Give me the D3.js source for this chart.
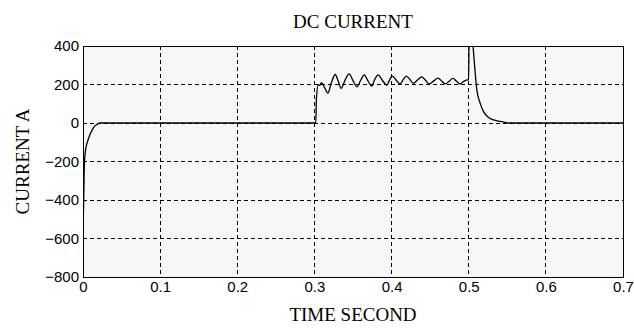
<!DOCTYPE html>
<html><head><meta charset="utf-8">
<script src="https://cdn.jsdelivr.net/npm/d3@7"></script>
<style>
body{margin:0;background:#fff;}
svg{display:block;}
.tick text{font-family:"Liberation Sans Narrow","Arial Narrow","Liberation Sans",Arial,sans-serif;font-size:15px;fill:#000;}
.lbl{font-family:"Liberation Serif","Times New Roman",serif;fill:#000;}
</style></head>
<body>
<svg id="c" width="634" height="331"></svg>
<script>
const title = "DC CURRENT";
const xLabel = "TIME SECOND";
const yLabel = "CURRENT A";
const xTicks = [0,0.1,0.2,0.3,0.4,0.5,0.6,0.7];
const yTicks = [400,200,0,-200,-400,-600,-800];
const time = [0,0.0005,0.001,0.0015,0.0021,0.003,0.0045,0.006,0.0074,0.009,0.0108,0.0135,0.0172,0.02,0.022,
 0.3018,0.3025,0.3048,0.307,0.309,0.313,0.3174,0.322,0.327,0.331,0.3346,0.34,0.345,0.35,0.355,0.36,0.3645,0.369,0.3744,
 0.378,0.3826,0.388,0.394,0.397,0.401,0.406,0.411,0.415,0.419,0.424,0.428,0.434,0.439,0.444,0.449,0.455,0.460,0.465,0.4695,
 0.475,0.4795,0.484,0.489,0.493,0.497,0.4998,0.5006,0.5045,0.506,0.5084,0.5106,0.5149,0.5192,0.5257,0.5322,0.5409,0.547,0.5512,0.7];
const current = [-540,-480,-380,-260,-192,-150,-115,-95,-78,-60,-45,-25,-10,-3,0,
 0,120,198,195,210,185,155,210,252,215,180,225,255,220,188,222,250,222,192,
 225,250,222,197,220,244,222,203,225,244,225,206,225,240,222,203,220,233,218,203,
 218,232,218,203,215,223,225,450,450,380,260,171,102,59,29,16,8,3,0,0];

const W=634,H=331,m={l:83,r:11,t:46,b:54};
const svg=d3.select("#c");
const x=d3.scaleLinear().domain([0,0.7]).range([m.l,W-m.r]);
const y=d3.scaleLinear().domain([-800,400]).range([H-m.b,m.t]);

svg.append("rect").attr("x",m.l).attr("y",m.t).attr("width",W-m.l-m.r).attr("height",H-m.t-m.b).attr("fill","#f7f7f7");

// grid
svg.append("g").selectAll("line").data(xTicks.slice(1,-1)).join("line")
 .attr("x1",d=>x(d)).attr("x2",d=>x(d)).attr("y1",m.t).attr("y2",H-m.b)
 .attr("stroke","#000").attr("stroke-width",1).attr("stroke-dasharray","4,3").attr("shape-rendering","crispEdges");
svg.append("g").selectAll("line").data(yTicks.slice(1,-1)).join("line")
 .attr("y1",d=>y(d)).attr("y2",d=>y(d)).attr("x1",m.l).attr("x2",W-m.r)
 .attr("stroke","#000").attr("stroke-width",1).attr("stroke-dasharray","4,3").attr("shape-rendering","crispEdges");

svg.append("clipPath").attr("id","cp").append("rect").attr("x",m.l).attr("y",m.t).attr("width",W-m.l-m.r).attr("height",H-m.t-m.b);
const line=d3.line().x(d=>x(d[0])).y(d=>y(d[1])).curve(d3.curveMonotoneX);
svg.append("path").attr("clip-path","url(#cp)").datum(d3.zip(time,current))
 .attr("d",line).attr("fill","none").attr("stroke","#000").attr("stroke-width",1.3);

svg.append("rect").attr("x",m.l+0.5).attr("y",m.t+0.5).attr("width",W-m.l-m.r).attr("height",H-m.t-m.b)
 .attr("fill","none").attr("stroke","#000").attr("stroke-width",1).attr("shape-rendering","crispEdges");

const xa=svg.append("g").attr("transform",`translate(0,${H-m.b})`)
 .call(d3.axisBottom(x).tickValues(xTicks).tickFormat(d=>d===0?"0":d3.format(".1f")(d)).tickSize(0).tickPadding(4));
xa.select(".domain").remove();
const ya=svg.append("g").attr("transform",`translate(${m.l},0)`)
 .call(d3.axisLeft(y).tickValues(yTicks).tickFormat(d3.format("d")).tickSize(0).tickPadding(4));
ya.select(".domain").remove();

svg.append("text").attr("class","lbl").attr("x",(m.l+W-m.r)/2).attr("y",28).attr("text-anchor","middle").attr("font-size",19).text(title);
svg.append("text").attr("class","lbl").attr("x",(m.l+W-m.r)/2).attr("y",321).attr("text-anchor","middle").attr("font-size",19).text(xLabel);
svg.append("text").attr("class","lbl").attr("transform",`translate(29,${(m.t+H-m.b)/2}) rotate(-90)`).attr("text-anchor","middle").attr("font-size",19).text(yLabel);
</script>
</body></html>
